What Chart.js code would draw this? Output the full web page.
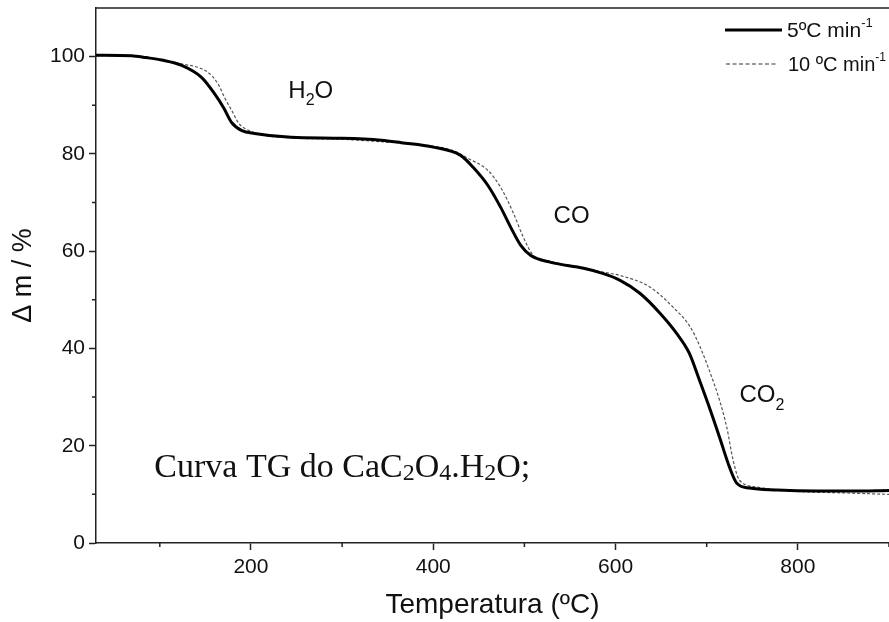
<!DOCTYPE html>
<html lang="pt">
<head>
<meta charset="UTF-8">
<title>Curva TG</title>
<script src="https://cdn.jsdelivr.net/npm/chart.js"></script>
<style>
  body { margin: 0; background: #fff; }
  #wrap { width: 889px; height: 622px; }
</style>
</head>
<body>
<div id="wrap"><canvas id="tg" width="889" height="622"></canvas></div>
<script>
// 5 ºC/min curve
var temp5 = [30, 69, 85, 102, 124, 146, 160, 170, 179, 190, 204, 244, 300, 343, 365, 400, 430, 444, 460, 474, 485, 496, 507, 529, 565, 583, 605, 627, 649, 667, 681, 692, 704, 714, 725, 733, 747, 777, 820, 860, 900];
var mass5 = [100.3, 100.2, 99.8, 99.3, 98.2, 95.7, 92.4, 89.5, 86.4, 84.8, 84.2, 83.4, 83.2, 82.8, 82.3, 81.4, 79.7, 77.2, 73.5, 69.0, 64.9, 61.2, 59.1, 57.7, 56.5, 55.6, 54.0, 51.3, 47.2, 43.1, 39.0, 33.5, 27.3, 21.8, 15.6, 12.3, 11.3, 10.9, 10.7, 10.7, 10.8];
// 10 ºC/min curve
var temp10 = [30, 69, 102, 124, 146, 157, 165, 171, 179, 187, 198, 210, 244, 300, 343, 380, 420, 438, 460, 474, 488, 499, 510, 530, 565, 583, 605, 638, 663, 682, 693, 704, 714, 722, 729, 736, 755, 800, 850, 900];
var mass10 = [100.2, 100.2, 99.3, 98.5, 97.5, 96.1, 94.0, 91.6, 88.9, 86.2, 84.8, 84.0, 83.3, 83.0, 82.5, 82.0, 80.8, 79.1, 76.6, 73.1, 67.8, 62.8, 59.1, 57.8, 56.6, 55.8, 55.0, 52.6, 48.5, 44.4, 40.2, 34.9, 29.4, 23.8, 17.0, 12.9, 11.5, 10.6, 10.3, 10.0];

var xMajor = [200, 400, 600, 800];
var xMinor = [100, 300, 500, 700, 900];
var yMajor = [0, 20, 40, 60, 80, 100];
var yMinor = [10, 30, 50, 70, 90];

function pts(xs, ys) {
  return xs.map(function (x, i) { return { x: x, y: ys[i] }; });
}

var ink = '#111';
var sans = 'Liberation Sans, Arial, sans-serif';
var serif = 'Liberation Serif, Times New Roman, serif';

// minor ticks, top frame line, legend and labels
var extras = {
  id: 'extras',
  afterDraw: function (chart) {
    var c = chart.ctx, a = chart.chartArea;
    var xs = chart.scales.x, ys = chart.scales.y;
    c.save();
    c.strokeStyle = '#222';
    c.lineWidth = 1.5;
    c.beginPath();
    c.moveTo(a.left, a.top); c.lineTo(a.right, a.top);
    xMinor.forEach(function (v) {
      var p = xs.getPixelForValue(v);
      c.moveTo(p, a.bottom); c.lineTo(p, a.bottom + 4);
    });
    yMinor.forEach(function (v) {
      var p = ys.getPixelForValue(v);
      c.moveTo(a.left, p); c.lineTo(a.left - 4, p);
    });
    c.stroke();

    // legend
    c.strokeStyle = '#000';
    c.lineWidth = 3;
    c.beginPath(); c.moveTo(a.right - 164, a.top + 22); c.lineTo(a.right - 107, a.top + 22); c.stroke();
    c.strokeStyle = '#333';
    c.lineWidth = 1.2;
    c.setLineDash([4, 2.5]);
    c.beginPath(); c.moveTo(a.right - 163, a.top + 56); c.lineTo(a.right - 111, a.top + 56); c.stroke();
    c.setLineDash([]);

    c.fillStyle = ink;
    c.textBaseline = 'alphabetic';
    c.textAlign = 'left';
    function sup(txt, x, y, size) {
      c.font = size + 'px ' + sans;
      c.fillText(txt, x, y);
      var w = c.measureText(txt).width;
      c.font = Math.round(size * 0.6) + 'px ' + sans;
      c.fillText('-1', x + w, y - size * 0.48);
    }
    sup('5ºC min', a.right - 102, a.top + 29, 21);
    sup('10 ºC min', a.right - 101, a.top + 63, 20);

    // chemical labels with subscripts
    function chem(parts, x, y, size, family, drop, ratio) {
      var cx = x;
      parts.forEach(function (p) {
        var small = p[1];
        c.font = (small ? Math.round(size * ratio) : size) + 'px ' + family;
        c.fillText(p[0], cx, y + (small ? drop : 0));
        cx += c.measureText(p[0]).width;
      });
    }
    chem([['H', 0], ['2', 1], ['O', 0]], xs.getPixelForValue(241), ys.getPixelForValue(91.5), 24, sans, 7, 0.65);
    chem([['CO', 0]], xs.getPixelForValue(532), ys.getPixelForValue(65.7), 24, sans, 0, 0.65);
    chem([['CO', 0], ['2', 1]], xs.getPixelForValue(736), ys.getPixelForValue(28.9), 24, sans, 8, 0.65);
    chem([['Curva TG do CaC', 0], ['2', 1], ['O', 0], ['4', 1], ['.H', 0], ['2', 1], ['O;', 0]],
      xs.getPixelForValue(94), ys.getPixelForValue(13.6), 34, serif, 3, 0.7);
    c.restore();
  }
};

var chart = new Chart(document.getElementById('tg'), {
  type: 'line',
  data: {
    datasets: [
      {
        label: '5ºC min-1',
        data: pts(temp5, mass5),
        borderColor: '#000',
        borderWidth: 3,
        pointRadius: 0,
        cubicInterpolationMode: 'monotone',
        fill: false
      },
      {
        label: '10 ºC min-1',
        data: pts(temp10, mass10),
        borderColor: '#555',
        borderWidth: 1.2,
        borderDash: [3, 2],
        pointRadius: 0,
        cubicInterpolationMode: 'monotone',
        fill: false
      }
    ]
  },
  options: {
    responsive: false,
    animation: false,
    layout: { padding: { top: 8, right: 0, left: 0, bottom: 0 } },
    plugins: { legend: { display: false }, tooltip: { enabled: false } },
    scales: {
      x: {
        type: 'linear',
        min: 30,
        max: 900,
        afterBuildTicks: function (s) { s.ticks = xMajor.map(function (v) { return { value: v }; }); },
        afterFit: function (s) { s.height = 79; s.paddingLeft = 0; s.paddingRight = 0; },
        grid: { drawOnChartArea: false, tickLength: 7, tickColor: '#222', tickWidth: 1.5 },
        border: { color: '#222', width: 1.5 },
        ticks: { color: ink, font: { family: sans, size: 21 }, padding: 5, maxRotation: 0 },
        title: { display: true, text: 'Temperatura (ºC)', color: ink, font: { family: sans, size: 28 }, padding: { top: 0, bottom: 0 } }
      },
      y: {
        min: 0,
        max: 110,
        afterBuildTicks: function (s) { s.ticks = yMajor.map(function (v) { return { value: v }; }); },
        afterFit: function (s) { s.width = 96; s.paddingTop = 0; s.paddingBottom = 0; },
        grid: { drawOnChartArea: false, tickLength: 7, tickColor: '#222', tickWidth: 1.5 },
        border: { color: '#222', width: 1.5 },
        ticks: { color: ink, font: { family: sans, size: 21 }, padding: 4 },
        title: { display: true, text: 'Δ m / %', color: ink, font: { family: sans, size: 27 }, padding: { top: 7, bottom: 0 } }
      }
    }
  },
  plugins: [extras]
});
</script>
</body>
</html>
